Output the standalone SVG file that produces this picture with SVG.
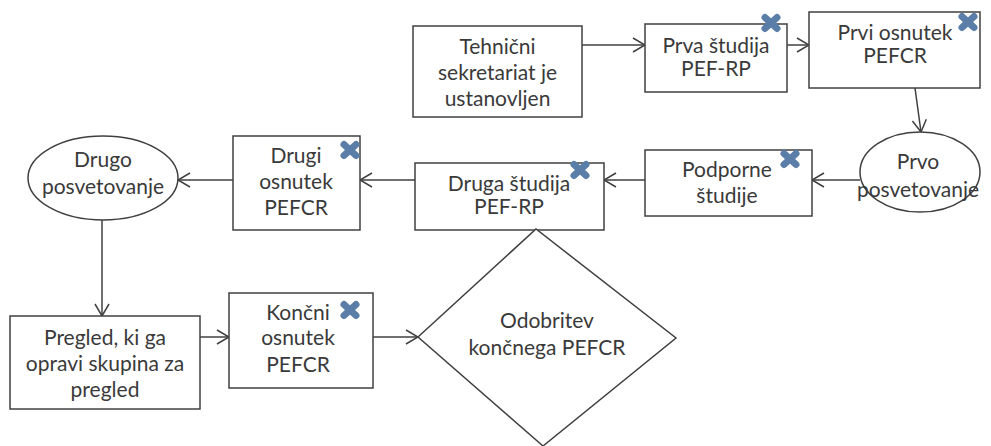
<svg xmlns="http://www.w3.org/2000/svg" width="991" height="446" viewBox="0 0 991 446">
  <style>
    .box { fill: #ffffff; stroke: #404040; stroke-width: 1.5; }
    .lbl { font-family: Lato, "Open Sans", "Liberation Sans", sans-serif; font-size: 21px; fill: #3a3a3a; text-anchor: middle; }
    .edge { fill: none; stroke: #404040; stroke-width: 1.5; marker-end: url(#chev); }
    .xm { fill: none; stroke: #5b7ea8; stroke-width: 7; stroke-linecap: round; }
  </style>
  <defs>
    <marker id="chev" viewBox="0 0 14 16" refX="13" refY="8" markerWidth="14" markerHeight="16" markerUnits="userSpaceOnUse" orient="auto">
      <path d="M1,1 L13,8 L1,15" fill="none" stroke="#404040" stroke-width="1.5"/>
    </marker>
    <g id="xmark">
      <path class="xm" d="M-6,-5.5 L6,5.5 M-6,5.5 L6,-5.5"/>
    </g>
  </defs>
  <rect width="991" height="446" fill="#ffffff"/>

  <!-- connectors -->
  <g id="connectors">
    <line class="edge" x1="582" y1="45" x2="645" y2="45"/>
    <line class="edge" x1="787" y1="45" x2="809" y2="45"/>
    <line class="edge" x1="915" y1="88" x2="921" y2="132"/>
    <line class="edge" x1="860" y1="180" x2="812" y2="180"/>
    <line class="edge" x1="645" y1="180" x2="604" y2="180"/>
    <line class="edge" x1="415" y1="180" x2="360" y2="180"/>
    <line class="edge" x1="233" y1="180" x2="178" y2="180"/>
    <line class="edge" x1="102" y1="220" x2="102" y2="316"/>
    <line class="edge" x1="200" y1="337" x2="229" y2="337"/>
    <line class="edge" x1="373" y1="337" x2="418" y2="337"/>
  </g>

  <g id="tehnicni">
    <rect class="box" x="413" y="26" width="169" height="91"/>
    <text class="lbl" x="497.5" y="54">Tehnični</text>
    <text class="lbl" x="497.5" y="80">sekretariat je</text>
    <text class="lbl" x="497.5" y="106">ustanovljen</text>
  </g>

  <g id="prva-studija">
    <rect class="box" x="645" y="24" width="142" height="68"/>
    <text class="lbl" x="716" y="53">Prva študija</text>
    <text class="lbl" x="716" y="76">PEF-RP</text>
    <use href="#xmark" x="771" y="23"/>
  </g>

  <g id="prvi-osnutek">
    <rect class="box" x="809" y="12" width="171" height="76"/>
    <text class="lbl" x="895" y="40">Prvi osnutek</text>
    <text class="lbl" x="895" y="63">PEFCR</text>
    <use href="#xmark" x="968" y="22"/>
  </g>

  <g id="prvo-posvetovanje">
    <ellipse class="box" cx="920" cy="172" rx="60" ry="40"/>
    <text class="lbl" x="918" y="169">Prvo</text>
    <text class="lbl" x="918" y="197">posvetovanje</text>
  </g>

  <g id="podporne-studije">
    <rect class="box" x="645" y="150" width="167" height="66"/>
    <text class="lbl" x="727" y="177">Podporne</text>
    <text class="lbl" x="727" y="203">študije</text>
    <use href="#xmark" x="790" y="159"/>
  </g>

  <g id="druga-studija">
    <rect class="box" x="415" y="163" width="189" height="67"/>
    <text class="lbl" x="509" y="191">Druga študija</text>
    <text class="lbl" x="509" y="214">PEF-RP</text>
    <use href="#xmark" x="580" y="170"/>
  </g>

  <g id="drugi-osnutek">
    <rect class="box" x="233" y="136" width="127" height="94"/>
    <text class="lbl" x="296" y="163">Drugi</text>
    <text class="lbl" x="296" y="189">osnutek</text>
    <text class="lbl" x="296" y="215">PEFCR</text>
    <use href="#xmark" x="350" y="150"/>
  </g>

  <g id="drugo-posvetovanje">
    <ellipse class="box" cx="103" cy="178" rx="75" ry="42"/>
    <text class="lbl" x="103" y="167">Drugo</text>
    <text class="lbl" x="103" y="194">posvetovanje</text>
  </g>

  <g id="pregled">
    <rect class="box" x="10" y="316" width="190" height="93"/>
    <text class="lbl" x="105" y="345">Pregled, ki ga</text>
    <text class="lbl" x="105" y="371">opravi skupina za</text>
    <text class="lbl" x="105" y="397">pregled</text>
  </g>

  <g id="koncni-osnutek">
    <rect class="box" x="229" y="293" width="144" height="95"/>
    <text class="lbl" x="298" y="320">Končni</text>
    <text class="lbl" x="298" y="345">osnutek</text>
    <text class="lbl" x="298" y="372">PEFCR</text>
    <use href="#xmark" x="350" y="310"/>
  </g>

  <g id="odobritev">
    <polygon class="box" points="418,337 536,229 676,338 543,446"/>
    <text class="lbl" x="547" y="328">Odobritev</text>
    <text class="lbl" x="547" y="355">končnega PEFCR</text>
  </g>
</svg>
